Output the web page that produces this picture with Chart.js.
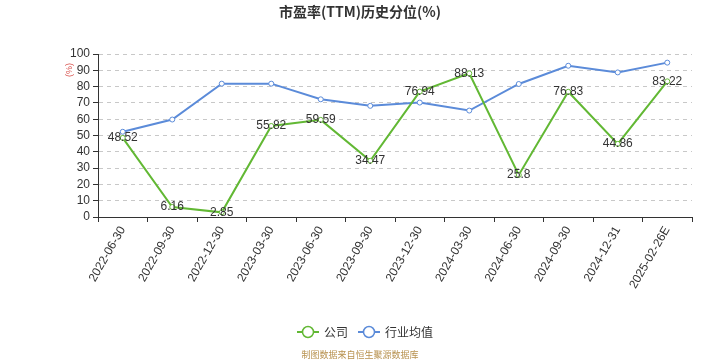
<!DOCTYPE html>
<html>
<head>
<meta charset="utf-8">
<script src="https://cdn.jsdelivr.net/npm/chart.js@4.4.0/dist/chart.umd.min.js"></script>
<style>
  html, body { margin: 0; padding: 0; background: #fff; }
  #wrap { width: 720px; height: 360px; }
</style>
</head>
<body>
<div id="wrap"><canvas id="myChart" width="720" height="360"></canvas></div>
<script>
// Datos
const fechas = ['2022-06-30', '2022-09-30', '2022-12-30', '2023-03-30', '2023-06-30', '2023-09-30',
  '2023-12-30', '2024-03-30', '2024-06-30', '2024-09-30', '2024-12-31', '2025-02-26E'];
const empresa = [48.52, 6.16, 2.85, 55.82, 59.59, 34.47, 76.94, 88.13, 25.8, 76.83, 44.86, 83.22];
const industria = [52.3, 59.8, 81.8, 81.8, 72.2, 68.2, 70.2, 65.3, 81.6, 92.8, 88.7, 94.7];
const yTicks = [0, 10, 20, 30, 40, 50, 60, 70, 80, 90, 100];

const verde = '#62b834';
const azul = '#5b8bd9';
const fuente = '"Liberation Sans", "Noto Sans CJK SC", sans-serif';

// Titulo, unidad, etiquetas, leyenda y pie
const extras = {
  id: 'extras',
  afterDatasetsDraw(chart) {
    const ctx = chart.ctx;
    ctx.save();
    // etiquetas de la serie de la empresa
    const meta = chart.getDatasetMeta(0);
    ctx.font = '12px ' + fuente;
    ctx.fillStyle = '#333';
    ctx.textAlign = 'center';
    ctx.textBaseline = 'middle';
    meta.data.forEach((pt, i) => {
      ctx.fillText(String(empresa[i]), pt.x, pt.y);
    });
    ctx.restore();
  },
  afterDraw(chart) {
    const ctx = chart.ctx;
    ctx.save();
    // titulo
    ctx.font = 'bold 14px "Noto Sans CJK SC", sans-serif';
    ctx.fillStyle = '#333';
    ctx.textAlign = 'center';
    ctx.textBaseline = 'middle';
    ctx.fillText('市盈率(TTM)历史分位(%)', 360, 12);

    // unidad (%)
    ctx.save();
    ctx.translate(70, 70);
    ctx.rotate(-Math.PI / 2);
    ctx.font = '9px ' + fuente;
    ctx.fillStyle = '#d9534f';
    ctx.fillText('(%)', 0, 0);
    ctx.restore();

    // leyenda
    const items = [{ t: '公司', c: verde }, { t: '行业均值', c: azul }];
    let x = 297;
    const y = 332;
    ctx.font = '12px "Noto Sans CJK SC", sans-serif';
    ctx.textAlign = 'left';
    items.forEach(it => {
      ctx.strokeStyle = it.c;
      ctx.lineWidth = 2;
      ctx.beginPath();
      ctx.moveTo(x, y);
      ctx.lineTo(x + 22, y);
      ctx.stroke();
      ctx.beginPath();
      ctx.arc(x + 11, y, 5.5, 0, Math.PI * 2);
      ctx.fillStyle = '#fff';
      ctx.fill();
      ctx.lineWidth = 1.5;
      ctx.stroke();
      ctx.fillStyle = '#333';
      ctx.fillText(it.t, x + 27, y);
      x += 27 + ctx.measureText(it.t).width + 10;
    });

    // pie
    ctx.font = '9px "Noto Sans CJK SC", sans-serif';
    ctx.fillStyle = '#b8924f';
    ctx.textAlign = 'center';
    ctx.fillText('制图数据来自恒生聚源数据库', 360, 355);
    ctx.restore();
  }
};

const cdx = document.getElementById('myChart');
new Chart(cdx, {
  type: 'line',
  data: {
    labels: fechas,
    datasets: [
      {
        label: '公司',
        data: empresa,
        borderColor: verde,
        backgroundColor: '#fff',
        borderWidth: 2,
        pointRadius: 2.5,
        pointBorderWidth: 1,
        tension: 0
      },
      {
        label: '行业均值',
        data: industria,
        borderColor: azul,
        backgroundColor: '#fff',
        borderWidth: 2,
        pointRadius: 2.5,
        pointBorderWidth: 1,
        tension: 0
      }
    ]
  },
  options: {
    responsive: false,
    animation: false,
    layout: { padding: { top: 54, left: 10, right: 28, bottom: 0 } },
    scales: {
      x: {
        offset: true,
        grid: { drawOnChartArea: false, drawTicks: true, tickLength: 5, offset: true, color: '#333' },
        border: { color: '#333' },
        ticks: {
          minRotation: 60, maxRotation: 60, autoSkip: false,
          color: '#333', font: { size: 12, family: fuente }, padding: 2
        },
        afterFit(scale) { scale.height = 143; }
      },
      y: {
        min: 0, max: 100,
        afterBuildTicks(scale) { scale.ticks = yTicks.map(v => ({ value: v })); },
        grid: { color: '#c8c8c8', tickLength: 5, tickColor: '#333', tickBorderDash: [] },
        border: { color: '#333', dash: [4, 4] },
        ticks: { color: '#333', font: { size: 12, family: fuente }, padding: 3, autoSkip: false, stepSize: 10 },
        afterFit(scale) { scale.width = 88; }
      }
    },
    plugins: {
      legend: { display: false },
      title: { display: false },
      tooltip: { enabled: false }
    }
  },
  plugins: [extras]
});
</script>
</body>
</html>
